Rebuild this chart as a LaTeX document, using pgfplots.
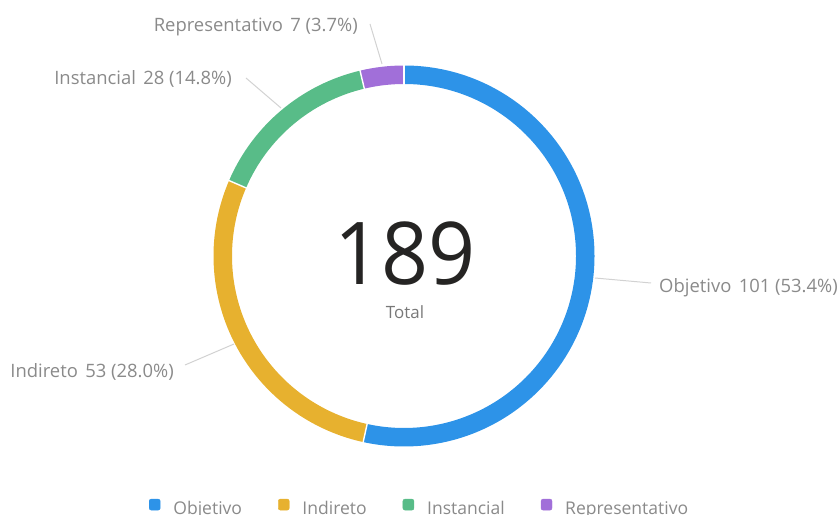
\documentclass[border=0pt]{standalone}
\usepackage{fontspec}
\setmainfont{Open Sans}
\usepackage{pgfplots}
\usepackage{pgfplotstable}
\pgfplotsset{compat=1.18}

\definecolor{cObj}{HTML}{2D93E8}
\definecolor{cInd}{HTML}{E7B12F}
\definecolor{cIns}{HTML}{58BC88}
\definecolor{cRep}{HTML}{A16FD9}
\definecolor{lbl}{HTML}{8A8A8A}
\definecolor{lead}{HTML}{D2D2D2}
\definecolor{big}{HTML}{252423}
\definecolor{tot}{HTML}{787878}

% slices of the donut, clockwise from the top
\pgfplotstableread{
label value
Objetivo 101
Indireto 53
Instancial 28
Representativo 7
}\donut

\newcommand\ringr{181.25bp}
\newcommand\lblfont{\fontsize{18.5}{22}\selectfont}

% start angles of the slices
\pgfplotstablegetelem{0}{value}\of\donut \pgfmathsetmacro\va{\pgfplotsretval}
\pgfplotstablegetelem{1}{value}\of\donut \pgfmathsetmacro\vb{\pgfplotsretval}
\pgfplotstablegetelem{2}{value}\of\donut \pgfmathsetmacro\vc{\pgfplotsretval}
\pgfplotstablegetelem{3}{value}\of\donut \pgfmathsetmacro\vd{\pgfplotsretval}
\pgfmathsetmacro\tot{\va+\vb+\vc+\vd}
\pgfmathsetmacro\aA{90}
\pgfmathsetmacro\aB{\aA-360*(\va/\tot)}
\pgfmathsetmacro\aC{\aB-360*(\vb/\tot)}
\pgfmathsetmacro\aD{\aC-360*(\vc/\tot)}
\pgfmathsetmacro\aE{\aD-360*(\vd/\tot)}

\begin{document}
\begin{tikzpicture}
\begin{axis}[
    name=ax,
    width=840bp, height=514bp, scale only axis,
    xmin=0, xmax=840, ymin=0, ymax=514,
    hide axis, clip=false,
    legend columns=4,
    legend image code/.code={\fill[rounded corners=2bp] (0bp,-1.5bp) rectangle (11bp,9.5bp);},
    legend style={draw=none, fill=none, inner sep=0pt, outer sep=0pt,
        at={(axis cs:149,-2)}, anchor=south west,
        font=\fontsize{17.6}{21}\selectfont, text=lbl,
        nodes={inner sep=0pt},
        /tikz/every odd column/.style={column sep=13bp},
        /tikz/every even column/.style={column sep=36bp}},
]
\addlegendimage{cObj}
\addlegendimage{cInd}
\addlegendimage{cIns}
\addlegendimage{cRep}
\legend{Objetivo, Indireto, Instancial, Representativo}

% ring
\draw[cObj, line width=18.5bp] (axis cs:404,258) ++(\aA:\ringr) arc[start angle=\aA, end angle=\aB, radius=\ringr];
\draw[cInd, line width=18.5bp] (axis cs:404,258) ++(\aB:\ringr) arc[start angle=\aB, end angle=\aC, radius=\ringr];
\draw[cIns, line width=18.5bp] (axis cs:404,258) ++(\aC:\ringr) arc[start angle=\aC, end angle=\aD, radius=\ringr];
\draw[cRep, line width=18.5bp] (axis cs:404,258) ++(\aD:\ringr) arc[start angle=\aD, end angle=\aE, radius=\ringr];
\draw[white, line width=1.4bp] (axis cs:404,258) ++(\aA:168bp) -- ++(\aA:26bp);
\draw[white, line width=1.4bp] (axis cs:404,258) ++(\aB:168bp) -- ++(\aB:26bp);
\draw[white, line width=1.4bp] (axis cs:404,258) ++(\aC:168bp) -- ++(\aC:26bp);
\draw[white, line width=1.4bp] (axis cs:404,258) ++(\aD:168bp) -- ++(\aD:26bp);

% leader lines
\draw[lead, line width=1bp] (axis cs:595,236) -- (axis cs:651,231);
\draw[lead, line width=1bp] (axis cs:185,149) -- (axis cs:234,170);
\draw[lead, line width=1bp] (axis cs:246,436) -- (axis cs:281,406);
\draw[lead, line width=1bp] (axis cs:370,490) -- (axis cs:382,450);

% labels
\node[anchor=base west, inner sep=0pt, text=lbl, font=\lblfont] at (axis cs:659,221) {Objetivo\hspace{0.4em}101 (53.4\%)};
\node[anchor=base east, inner sep=0pt, text=lbl, font=\lblfont] at (axis cs:174,137) {Indireto\hspace{0.4em}53 (28.0\%)};
\node[anchor=base east, inner sep=0pt, text=lbl, font=\lblfont] at (axis cs:232,429) {Instancial\hspace{0.4em}28 (14.8\%)};
\node[anchor=base east, inner sep=0pt, text=lbl, font=\lblfont] at (axis cs:358,482) {Representativo\hspace{0.4em}7 (3.7\%)};

% centre
\node[anchor=base, inner sep=0pt, xscale=0.95, text=big, font=\fontsize{87}{90}\selectfont] at (axis cs:405,229) {189};
\node[anchor=base, inner sep=0pt, text=tot, font=\fontsize{17}{20}\selectfont] at (axis cs:405,196) {Total};
\end{axis}
\pgfresetboundingbox
\path[use as bounding box] (ax.south west) rectangle (ax.north east);
\end{tikzpicture}
\end{document}
